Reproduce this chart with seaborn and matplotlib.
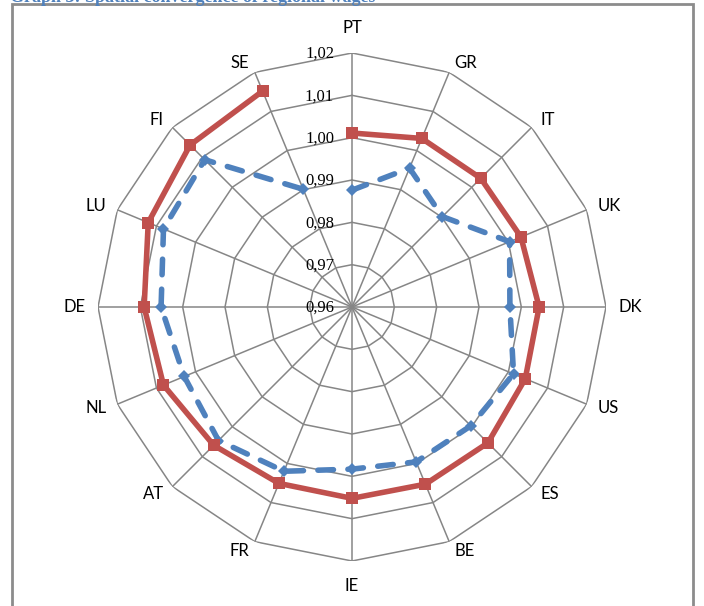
#!/usr/bin/env python3

import numpy as np
import pandas
import seaborn as sns
import matplotlib
matplotlib.use("Agg")
import matplotlib.pyplot as plt
from matplotlib.patches import Rectangle

# Countries, clockwise from the top
countries = ["PT", "GR", "IT", "UK", "DK", "US", "ES", "BE",
             "IE", "FR", "AT", "NL", "DE", "LU", "FI", "SE"]

# Solid red series
series_a = [1.0011, 1.0031, 1.0030, 1.0032, 1.0042, 1.0043, 1.0054, 1.0053,
            1.0052, 1.0051, 1.0062, 1.0082, 1.0091, 1.0121, 1.0141, 1.0152]

# Dashed blue series
series_b = [0.9876, 0.9955, 0.9902, 1.0003, 0.9973, 1.0013, 0.9997, 0.9996,
            0.9983, 1.0020, 1.0046, 1.0029, 1.0051, 1.0082, 1.0092, 0.9901]

ring_values = [0.96, 0.97, 0.98, 0.99, 1.00, 1.01, 1.02]
ring_labels = ["0,96", "0,97", "0,98", "0,99", "1,00", "1,01", "1,02"]

RED = "#C0504D"
BLUE = "#4F81BD"
GRID = "#868686"


def closed_frame(values, name):
    """
    Build a closed loop dataframe for one series.
    """
    theta = np.linspace(0, 2 * np.pi, len(countries), endpoint=False)
    theta = np.append(theta, theta[0])
    vals = list(values) + [values[0]]
    return pandas.DataFrame({"theta": theta, "value": vals, "series": name})


def main():
    sns.set_style("white")
    plt.rcParams["font.family"] = ["Lato", "DejaVu Sans"]

    fig = plt.figure(figsize=(7.04, 6.06), dpi=100)
    W, H = 704, 606
    cx, cy, R = 352, 307, 254
    ax = fig.add_axes([(cx - R) / W, (H - cy - R) / H, 2 * R / W, 2 * R / H],
                      projection="polar")
    ax.set_theta_zero_location("N")
    ax.set_theta_direction(-1)
    ax.set_ylim(ring_values[0], ring_values[-1])
    ax.grid(False)
    ax.spines["polar"].set_visible(False)
    ax.set_xticks([])
    ax.set_yticks([])
    ax.patch.set_alpha(0)

    theta = np.linspace(0, 2 * np.pi, len(countries), endpoint=False)
    loop = np.append(theta, theta[0])

    # polygon grid
    for rv in ring_values[1:]:
        ax.plot(loop, [rv] * len(loop), color=GRID, lw=1.1, zorder=1)
    for t in theta:
        ax.plot([t, t], [ring_values[0], ring_values[-1]], color=GRID, lw=1.1, zorder=1)

    # ring labels on the vertical axis
    for rv, lab in zip(ring_values, ring_labels):
        ax.annotate(lab, xy=(0, rv), xytext=(-18, -1), textcoords="offset pixels",
                    ha="right", va="center", fontsize=12,
                    family=["Liberation Serif", "DejaVu Serif"], color="black",
                    annotation_clip=False, zorder=5)

    # category labels, anchored next to the outer vertex like Excel does
    for t, name in zip(theta, countries):
        s, c = np.sin(t), np.cos(t)
        if abs(c) > 0.99:
            ha = "center"
            va = "bottom" if c > 0 else "top"
            off = (0, 17 * np.sign(c))
        else:
            ha = "left" if s > 0 else "right"
            va = "center"
            off = (11 * s + 1 * np.sign(s), 10 * c)
        ax.annotate(name, xy=(t, ring_values[-1]), xytext=off,
                    textcoords="offset pixels", ha=ha, va=va, fontsize=12,
                    color="black", annotation_clip=False)

    df_a = closed_frame(series_a, "a")
    df_b = closed_frame(series_b, "b")

    sns.lineplot(data=df_b, x="theta", y="value", sort=False, ax=ax,
                 color=BLUE, lw=4, linestyle=(0, (2.8, 2.6)), marker="D",
                 markersize=6, markeredgewidth=0, zorder=3, legend=False,
                 dash_capstyle="round")
    sns.lineplot(data=df_a, x="theta", y="value", sort=False, ax=ax,
                 color=RED, lw=4, marker="s", markersize=8,
                 markeredgewidth=0, zorder=4, legend=False)
    ax.set_xlabel("")
    ax.set_ylabel("")
    ax.set_ylim(ring_values[0], ring_values[-1])

    # outer frame of the chart area
    fig.patches.append(Rectangle((12 / W, -0.05), (693 - 12) / W, 1.05 - 4.5 / H,
                                 transform=fig.transFigure, fill=False,
                                 edgecolor="#8C8C8C", lw=2))

    # clipped caption at the very top
    fig.text(10 / W, 1 - 1.5 / H, "Graph 3: Spatial convergence of regional wages",
             ha="left", va="baseline", fontsize=13, fontweight="bold",
             color=BLUE, family=["Liberation Serif", "DejaVu Serif"])

    fig.savefig("out.png", dpi=100)


if __name__ == "__main__":
    main()
